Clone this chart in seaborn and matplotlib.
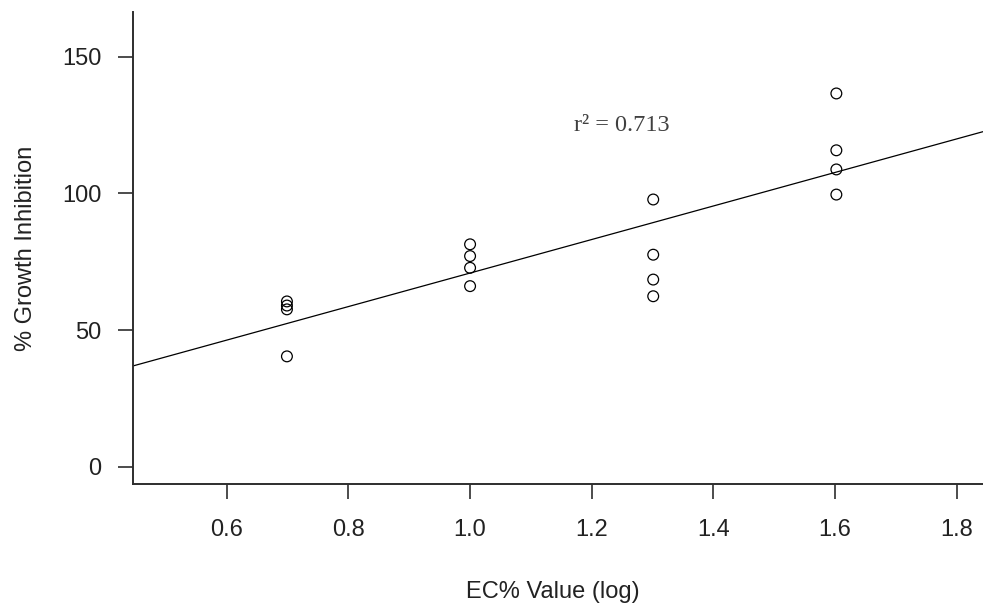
import numpy as np
import pandas as pd
import seaborn as sns
import matplotlib
matplotlib.use("Agg")
import matplotlib.pyplot as plt

# EC% values (log10 of 5, 10, 20, 40) and measured growth inhibition
ec_log = [0.699] * 4 + [1.0] * 4 + [1.301] * 4 + [1.602] * 4
inhibition = [60.5, 59.0, 57.6, 40.4,
              81.4, 77.1, 72.8, 66.1,
              97.8, 77.6, 68.5, 62.4,
              136.6, 115.8, 108.8, 99.6]
x_ticks = [0.6, 0.8, 1.0, 1.2, 1.4, 1.6, 1.8]
y_ticks = [0, 50, 100, 150]
r2_label = "r\u00b2 = 0.713"

df = pd.DataFrame({"ec": ec_log, "gi": inhibition})

sns.set_style("ticks")
plt.rcParams["font.family"] = ["Liberation Sans", "DejaVu Sans"]

fig = plt.figure(figsize=(9.83, 6.13), dpi=100)
ax = fig.add_axes([0.1356, 0.21, 0.8644, 0.7704])

# limits first so the fitted line spans the whole plot
ax.set_xlim(0.4465, 1.843)
ax.set_ylim(-6.4, 166.4)

sns.scatterplot(data=df, x="ec", y="gi", ax=ax, marker="o", s=60,
                facecolor="none", edgecolor="black", linewidth=0.9)
sns.regplot(data=df, x="ec", y="gi", ax=ax, scatter=False, ci=None,
            truncate=False, line_kws=dict(color="black", lw=0.9))

ax.set_xlim(0.4465, 1.843)
ax.set_ylim(-6.4, 166.4)
ax.set_xticks(x_ticks)
ax.set_xticklabels([f"{t:.1f}" for t in x_ticks])
ax.set_yticks(y_ticks)

ax.text(1.25, 125, r2_label, ha="center", va="center", fontsize=17.5,
        color="#404040", family=["Liberation Serif", "DejaVu Serif"])

sns.despine(ax=ax)
for s in ["left", "bottom"]:
    ax.spines[s].set_color("#2e2e2e")
    ax.spines[s].set_linewidth(1.4)
ax.tick_params(length=11, width=1.2, color="#2e2e2e", labelsize=17,
               labelcolor="#222222")
ax.tick_params(axis="x", pad=14)
ax.tick_params(axis="y", pad=12)

ax.set_xlabel("EC% Value (log)", fontsize=17, color="#222222", va="center")
ax.set_ylabel("% Growth Inhibition", fontsize=17, color="#222222", va="center")
ax.xaxis.set_label_coords(0.494, -0.228)
ax.yaxis.set_label_coords(-0.126, 0.5)

fig.savefig("out.png", dpi=100)
